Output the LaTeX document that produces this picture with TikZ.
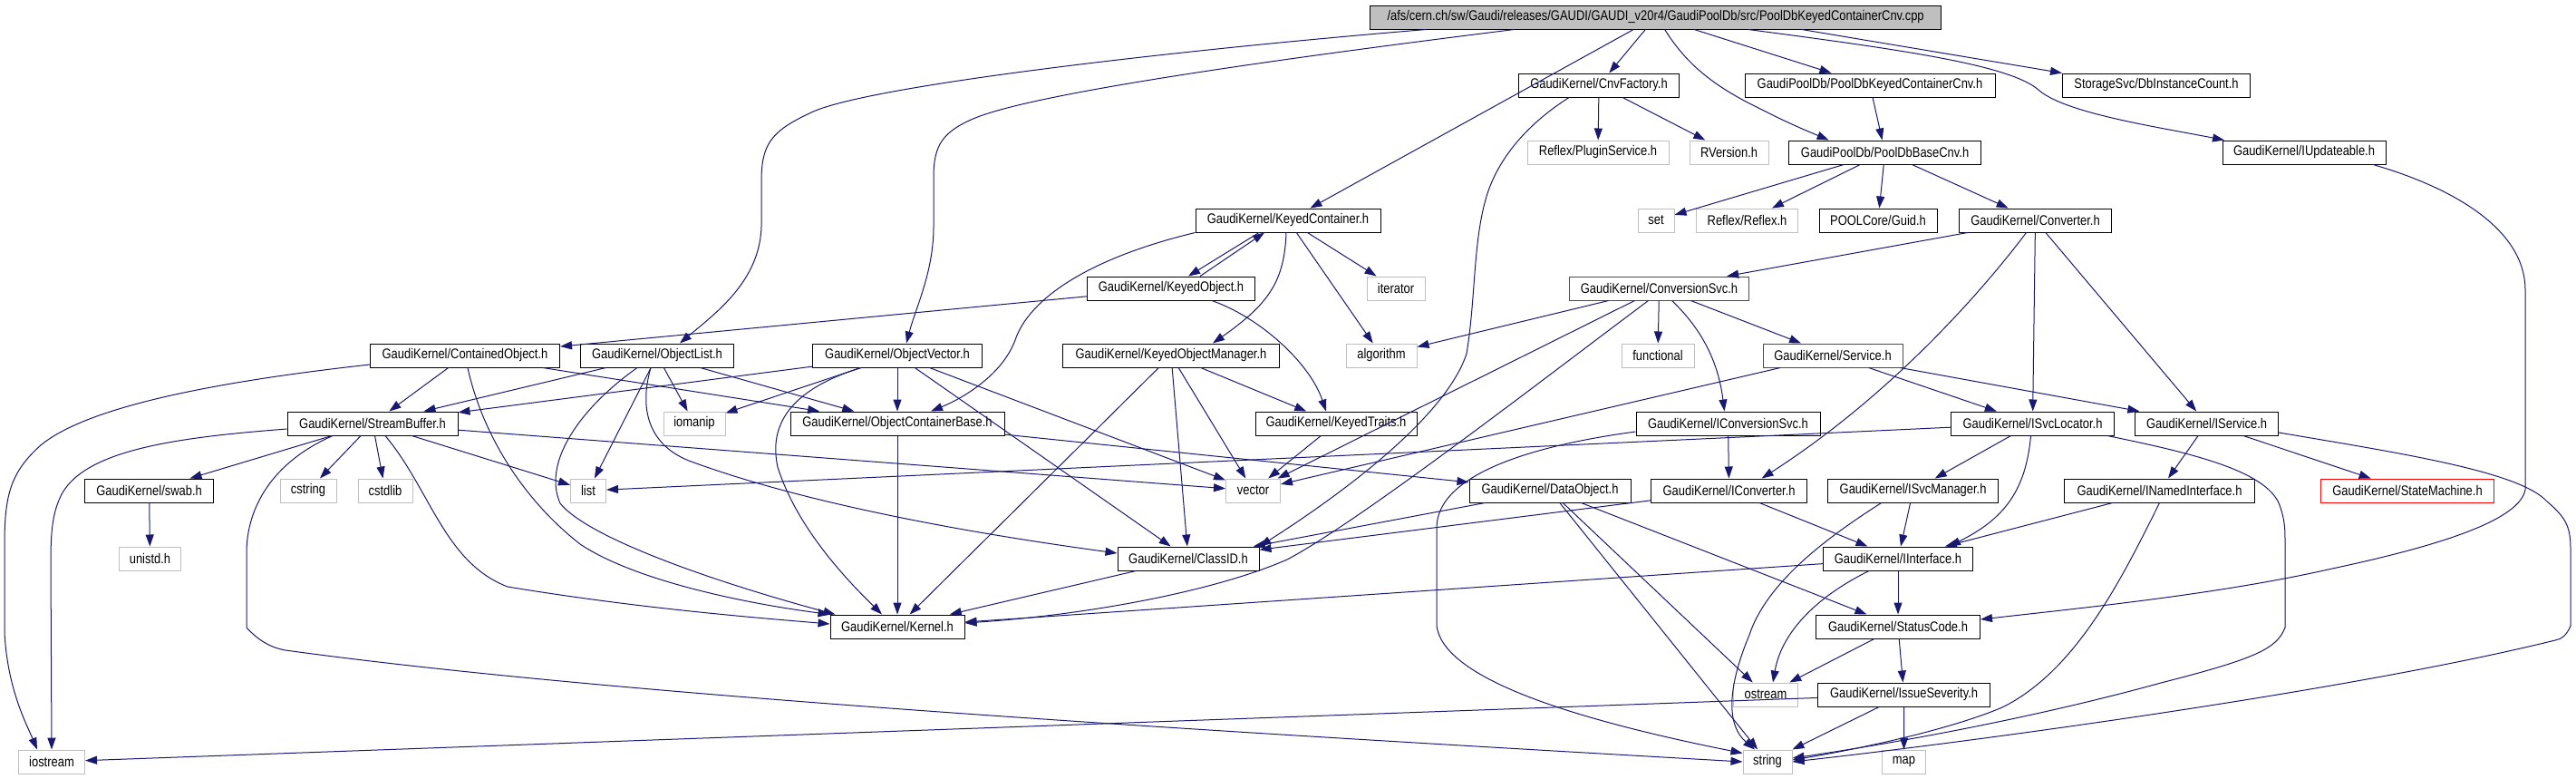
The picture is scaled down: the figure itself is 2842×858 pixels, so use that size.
\documentclass[tikz,border=0pt]{standalone}
\usepackage{fontspec}
\setmainfont{Liberation Sans}[FakeStretch=0.84]
\usetikzlibrary{arrows.meta, calc}
\definecolor{edgeline}{HTML}{191970}
\definecolor{extline}{HTML}{BFBFBF}
\definecolor{srcfill}{HTML}{BFBFBF}
\definecolor{redline}{HTML}{FF0000}
\tikzset{
  hdr/.style    = {rectangle, draw=black, fill=white, line width=0.5pt,
                   font=\fontsize{7.7}{9}\selectfont, minimum height=13pt, inner xsep=1pt, inner ysep=0pt},
  ext/.style    = {hdr, draw=extline},
  redhdr/.style = {hdr, draw=redline},
  src/.style    = {hdr, fill=srcfill},
  incl/.style   = {-{Triangle[length=6.5pt, width=4.5pt]}, line width=0.5pt, draw=edgeline},
}

\begin{document}
\begin{tikzpicture}[x=0.5pt, y=-0.5pt]
    \useasboundingbox[fill=white] (0,0) rectangle (2842,858);
    % rank 0 - 2
    \node[src,    minimum width=315pt]   (root)      at (1826.6,19) {/afs/cern.ch/sw/Gaudi/releases/GAUDI/GAUDI\_v20r4/GaudiPoolDb/src/PoolDbKeyedContainerCnv.cpp};
    \node[hdr,    minimum width=88.5pt]  (cnvfac)    at (1764,94)   {GaudiKernel/CnvFactory.h};
    \node[hdr,    minimum width=138pt]   (pkcnvh)    at (2063,94)   {GaudiPoolDb/PoolDbKeyedContainerCnv.h};
    \node[hdr,    minimum width=103.5pt] (dbinst)    at (2379,94)   {StorageSvc/DbInstanceCount.h};
    \node[ext,    minimum width=78pt]    (plugin)    at (1763,168)  {Reflex/PluginService.h};
    \node[ext,    minimum width=43.5pt]  (rversion)  at (1907.5,168){RVersion.h};
    \node[hdr,    minimum width=106pt]   (basecnv)   at (2079.6,168){GaudiPoolDb/PoolDbBaseCnv.h};
    \node[hdr,    minimum width=90pt]    (iupd)      at (2542,168)  {GaudiKernel/IUpdateable.h};
    % rank 3 - 5
    \node[hdr,    minimum width=102pt]   (keycont)   at (1421,243)  {GaudiKernel/KeyedContainer.h};
    \node[ext,    minimum width=20pt]    (set)       at (1827,243)  {set};
    \node[ext,    minimum width=56pt]    (reflex)    at (1927.5,243){Reflex/Reflex.h};
    \node[hdr,    minimum width=65pt]    (guid)      at (2072,243)  {POOLCore/Guid.h};
    \node[hdr,    minimum width=84pt]    (converter) at (2245.5,243){GaudiKernel/Converter.h};
    \node[hdr,    minimum width=92.5pt]  (keyobj)    at (1292,318)  {GaudiKernel/KeyedObject.h};
    \node[ext,    minimum width=32pt]    (iterator)  at (1540,318)  {iterator};
    \node[redhdr, minimum width=99pt]    (convsvc)   at (1830.5,318){GaudiKernel/ConversionSvc.h};
    \node[hdr,    minimum width=104.5pt] (contobj)   at (513,392)   {GaudiKernel/ContainedObject.h};
    \node[hdr,    minimum width=84.5pt]  (objlist)   at (725,392)   {GaudiKernel/ObjectList.h};
    \node[hdr,    minimum width=93.5pt]  (objvec)    at (990,392)   {GaudiKernel/ObjectVector.h};
    \node[hdr,    minimum width=119.5pt] (keyobjmgr) at (1292,392)  {GaudiKernel/KeyedObjectManager.h};
    \node[ext,    minimum width=39pt]    (algorithm) at (1524,392)  {algorithm};
    \node[ext,    minimum width=40pt]    (functional)at (1829,392)  {functional};
    \node[redhdr, minimum width=77pt]    (service)   at (2022,392)  {GaudiKernel/Service.h};
    % rank 6 - 8
    \node[hdr,    minimum width=94pt]    (streambuf) at (411,467)   {GaudiKernel/StreamBuffer.h};
    \node[ext,    minimum width=34pt]    (iomanip)   at (766,467)   {iomanip};
    \node[hdr,    minimum width=118pt]   (ocb)       at (990,467)   {GaudiKernel/ObjectContainerBase.h};
    \node[hdr,    minimum width=89pt]    (keytraits) at (1474,467)  {GaudiKernel/KeyedTraits.h};
    \node[hdr,    minimum width=101.5pt] (iconvsvc)  at (1906.5,467){GaudiKernel/IConversionSvc.h};
    \node[hdr,    minimum width=90pt]    (isvcloc)   at (2242.5,467){GaudiKernel/ISvcLocator.h};
    \node[hdr,    minimum width=79pt]    (iservice)  at (2434.6,467){GaudiKernel/IService.h};
    \node[hdr,    minimum width=71pt]    (swab)      at (164.6,541) {GaudiKernel/swab.h};
    \node[ext,    minimum width=31pt]    (cstring)   at (340,541)   {cstring};
    \node[ext,    minimum width=30pt]    (cstdlib)   at (425,541)   {cstdlib};
    \node[ext,    minimum width=19.5pt]  (list)      at (649,541)   {list};
    \node[ext,    minimum width=30pt]    (vector)    at (1382.5,541){vector};
    \node[hdr,    minimum width=89pt]    (dataobj)   at (1710,541)  {GaudiKernel/DataObject.h};
    \node[hdr,    minimum width=86pt]    (iconverter)at (1907.6,541){GaudiKernel/IConverter.h};
    \node[hdr,    minimum width=94pt]    (isvcmgr)   at (2110.6,541){GaudiKernel/ISvcManager.h};
    \node[hdr,    minimum width=105pt]   (inamed)    at (2382.5,541){GaudiKernel/INamedInterface.h};
    \node[redhdr, minimum width=95.5pt]  (statemach) at (2656,541)  {GaudiKernel/StateMachine.h};
    \node[ext,    minimum width=34pt]    (unistd)    at (165.5,616) {unistd.h};
    \node[hdr,    minimum width=78pt]    (classid)   at (1311,616)  {GaudiKernel/ClassID.h};
    \node[hdr,    minimum width=82.5pt]  (iinterface)at (2094,616)  {GaudiKernel/IInterface.h};
    % rank 9 - 11
    \node[hdr,    minimum width=74pt]    (kernel)    at (990,691)   {GaudiKernel/Kernel.h};
    \node[hdr,    minimum width=90.5pt]  (statuscode)at (2094,691)  {GaudiKernel/StatusCode.h};
    \node[ext,    minimum width=35.5pt]  (ostream)   at (1948,766)  {ostream};
    \node[hdr,    minimum width=95pt]    (issuesev)  at (2100.6,766){GaudiKernel/IssueSeverity.h};
    \node[ext,    minimum width=36.5pt]  (iostream)  at (57,840)    {iostream};
    \node[ext,    minimum width=27pt]    (string)    at (1950,840)  {string};
    \node[ext,    minimum width=24pt]    (map)       at (2100.5,840){map};

    % straight includes
    \foreach \x/\y in {root/cnvfac, root/pkcnvh, root/keycont, cnvfac/plugin, cnvfac/rversion,
        pkcnvh/basecnv, basecnv/set, basecnv/reflex, basecnv/guid, basecnv/converter,
        converter/convsvc, converter/isvcloc, converter/iservice, keycont/iterator, keycont/algorithm,
        keyobj/contobj, contobj/streambuf, contobj/ocb, objlist/streambuf, objlist/ocb, objlist/list,
        objlist/iomanip, objvec/streambuf, objvec/ocb, objvec/iomanip, objvec/classid, objvec/vector,
        keyobjmgr/kernel, keyobjmgr/classid, keyobjmgr/vector, keyobjmgr/keytraits,
        streambuf/swab, streambuf/cstring, streambuf/cstdlib, streambuf/list, streambuf/vector,
        swab/unistd, ocb/kernel, ocb/dataobj, keytraits/vector, convsvc/algorithm, convsvc/functional,
        convsvc/service, convsvc/vector, service/vector, service/isvcloc, service/iservice,
        iconvsvc/iconverter, isvcloc/isvcmgr, isvcloc/list, iservice/inamed, iservice/statemach,
        dataobj/classid, dataobj/ostream, dataobj/statuscode, dataobj/string, iconverter/iinterface,
        iconverter/classid, isvcmgr/iinterface, inamed/iinterface, iinterface/kernel,
        iinterface/statuscode, statuscode/ostream, statuscode/issuesev, issuesev/iostream,
        issuesev/string, issuesev/map, classid/kernel}{\draw[incl] (\x) -- (\y);}

    % routed includes
    \draw[incl] ($(root.south)+(161,0)$) -- (dbinst.north west);
    \draw[incl] ($(root.south)+(102,0)$) .. controls (2100,55) and (2220,72) .. (2250,100) .. controls (2280,125) and (2380,140) .. ($(iupd.north)+(-88,0)$);
    \draw[incl] ($(root.south)+(10,0)$) .. controls (1860,70) and (1890,95) .. (1942,120) .. controls (1975,137) and (2000,147) .. ($(basecnv.north)+(-62,0)$);
    \draw[incl] ($(root.south)+(-253,0)$) .. controls (1300,55) and (950,95) .. (893,125) .. controls (850,145) and (840,160) .. (840,200) -- (840,250) .. controls (838,310) and (790,345) .. ($(objlist.north)+(25,0)$);
    \draw[incl] ($(root.south)+(-156,0)$) .. controls (1450,60) and (1150,100) .. (1076,130) .. controls (1040,145) and (1030,160) .. (1030,195) -- (1030,250) .. controls (1030,300) and (1010,340) .. ($(objvec.north)+(10,0)$);
    \draw[incl] ($(cnvfac.south)+(-33,0)$) .. controls (1680,140) and (1650,180) .. (1639,220) .. controls (1625,270) and (1628,330) .. (1618,390) .. controls (1595,460) and (1480,545) .. (classid.north east);
    \draw[incl] ($(converter.south)+(-10,0)$) .. controls (2180,330) and (2080,440) .. ($(iconverter.north)+(36,0)$);
    \draw[incl] ($(keycont.south)+(-32,0)$) -- ($(keyobj.north)+(19,0)$);
    \draw[incl] ($(keyobj.north)+(32,0)$) -- ($(keycont.south)+(-26,0)$);
    \draw[incl] ($(keycont.south)+(-2,0)$) .. controls (1417,310) and (1400,335) .. ($(keyobjmgr.north)+(46,0)$);
    \draw[incl] (keycont.south west) .. controls (1200,285) and (1135,330) .. (1120,375) .. controls (1105,415) and (1060,440) .. ($(ocb.north)+(37,0)$);
    \draw[incl] ($(keyobj.south)+(45,0)$) .. controls (1390,350) and (1445,400) .. ($(keytraits.north)+(-11,0)$);
    \draw[incl] ($(contobj.west)+(0,10)$) .. controls (200,425) and (90,455) .. (46,490) .. controls (12,520) and (5,545) .. (5,600) -- (5,697) .. controls (8,760) and (30,800) .. ($(iostream.north)+(-16,0)$);
    \draw[incl] ($(contobj.south)+(3,0)$) .. controls (530,470) and (570,545) .. (640,600) .. controls (700,640) and (820,665) .. (kernel.north west);
    \draw[incl] ($(objlist.south)+(-22,0)$) .. controls (640,450) and (598,510) .. (618,555) .. controls (650,595) and (800,645) .. ($(kernel.north west)+(6,0)$);
    \draw[incl] ($(objlist.south)+(-7,0)$) .. controls (705,450) and (715,490) .. (760,508) .. controls (900,560) and (1100,592) .. ($(classid.west)+(0,-6)$);
    \draw[incl] ($(objvec.south)+(-40,0)$) .. controls (870,430) and (848,470) .. (858,515) .. controls (880,585) and (940,645) .. ($(kernel.north)+(-17,0)$);
    \draw[incl] ($(streambuf.west)+(0,6)$) .. controls (200,482) and (95,495) .. (68,545) .. controls (58,565) and (56,585) .. (56,620) -- (iostream.north);
    \draw[incl] ($(streambuf.south)+(14,0)$) .. controls (475,540) and (490,620) .. (560,647) .. controls (700,670) and (820,680) .. ($(kernel.west)+(0,-3)$);
    \draw[incl] ($(streambuf.south)+(-44,0)$) .. controls (300,510) and (272,560) .. (272,610) -- (272,692) .. controls (285,706) and (298,714) .. (315,717) .. controls (700,770) and (1400,810) .. (string.west);
    \draw[incl] ($(convsvc.south)+(14,0)$) .. controls (1885,370) and (1897,410) .. ($(iconvsvc.north)+(-4,0)$);
    \draw[incl] ($(convsvc.south)+(-12,0)$) .. controls (1700,420) and (1500,575) .. (1420,617) .. controls (1340,652) and (1200,678) .. ($(kernel.east)+(0,-4)$);
    \draw[incl] ($(iconvsvc.west)+(0,9)$) .. controls (1700,490) and (1588,520) .. (1585,580) -- (1585,690) .. controls (1592,745) and (1720,790) .. ($(string.north west)+(0,4)$);
    \draw[incl] ($(isvcmgr.south)+(-35,0)$) .. controls (2020,590) and (1950,640) .. (1930,700) .. controls (1905,760) and (1905,800) .. ($(string.north)+(-14,0)$);
    \draw[incl] ($(isvcloc.south)+(-2,0)$) .. controls (2235,540) and (2212,572) .. ($(iinterface.north)+(56,0)$);
    \draw[incl] ($(isvcloc.south east)+(-8,0)$) .. controls (2420,500) and (2505,520) .. (2516,560) .. controls (2521,575) and (2521,585) .. (2521,600) -- (2521,692) .. controls (2512,715) and (2490,726) .. (2384,753) .. controls (2250,790) and (2100,818) .. ($(string.east)+(0,-4)$);
    \draw[incl] (inamed.south) .. controls (2340,640) and (2290,740) .. (2209,780) .. controls (2150,805) and (2050,826) .. ($(string.east)+(0,-2)$);
    \draw[incl] ($(iservice.east)+(0,10)$) .. controls (2650,500) and (2780,520) .. (2810,553) .. controls (2830,570) and (2836,580) .. (2836,605) -- (2836,690) .. controls (2832,700) and (2826,705) .. (2819,706) .. controls (2600,760) and (2200,815) .. (string.east);
    \draw[incl] ($(iupd.south)+(76,0)$) .. controls (2700,205) and (2786,250) .. (2786,320) -- (2786,540) .. controls (2780,572) and (2700,600) .. (2573,627) .. controls (2450,655) and (2300,670) .. ($(statuscode.east)+(0,-8)$);
    \draw[incl] ($(iinterface.south)+(-32,0)$) .. controls (2000,660) and (1965,700) .. ($(ostream.north)+(8,0)$);
\end{tikzpicture}
\end{document}
